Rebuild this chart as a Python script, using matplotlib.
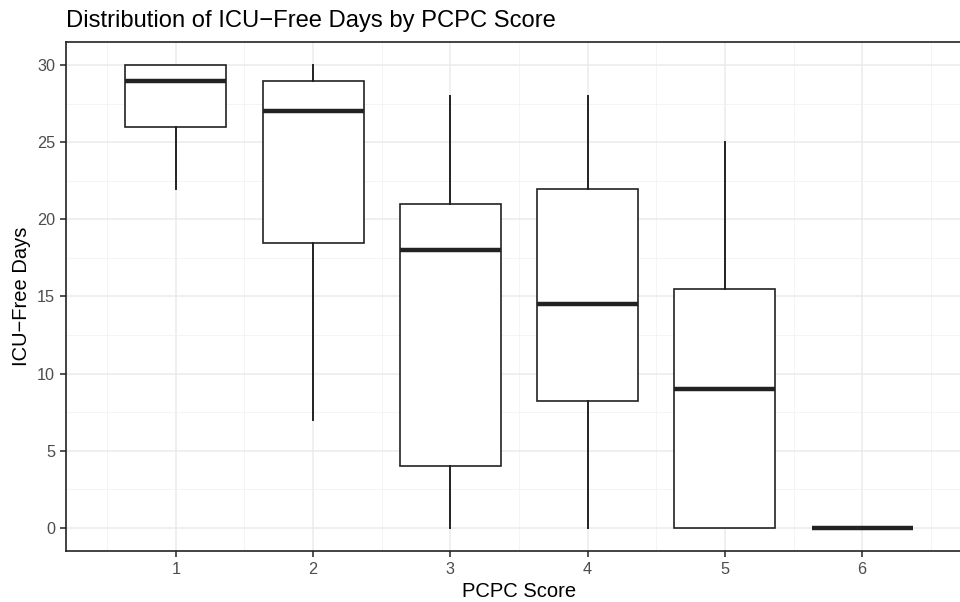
import matplotlib.pyplot as plt
import numpy as np

plt.rcParams['font.family'] = ['Liberation Sans', 'DejaVu Sans']

# PCPC score groups and box statistics
scores = [1, 2, 3, 4, 5, 6]
whisk_lo = [22, 7, 0, 0, 0, 0]
q1 = [26, 18.5, 4, 8.25, 0, 0]
medians = [29, 27, 18, 14.5, 9, 0]
q3 = [30, 29, 21, 22, 15.5, 0]
whisk_hi = [30, 30, 28, 28, 25, 0]

stats = []
for i in range(len(scores)):
    stats.append({'whislo': whisk_lo[i], 'q1': q1[i], 'med': medians[i],
                  'q3': q3[i], 'whishi': whisk_hi[i], 'fliers': []})

fig = plt.figure(figsize=(9.6, 6.02), dpi=100)
ax = fig.add_axes([66/960, 1-551/602, (972-66)/960, (551-42)/602])

line_col = '#222222'
ax.bxp(stats, positions=scores, widths=0.735, showcaps=False, patch_artist=True,
       boxprops=dict(facecolor='white', edgecolor=line_col, linewidth=1.2),
       whiskerprops=dict(color=line_col, linewidth=1.4),
       medianprops=dict(color=line_col, linewidth=3.2, solid_capstyle='butt'),
       zorder=3)

ax.set_xlim(0.2, 6.8)
ax.set_ylim(-1.5, 31.5)
ax.set_xticks(scores)
ax.set_xticklabels([str(s) for s in scores])
ax.set_xticks(np.arange(0.5, 7, 1), minor=True)
ax.set_yticks([0, 5, 10, 15, 20, 25, 30])
ax.set_yticks(np.arange(2.5, 31, 5), minor=True)

ax.grid(True, which='major', color='#EBEBEB', linewidth=1.1, zorder=0)
ax.grid(True, which='minor', color='#F2F2F2', linewidth=0.6, zorder=0)
ax.set_axisbelow(True)

for side in ax.spines.values():
    side.set_color('#222222')
    side.set_linewidth(1.2)

ax.tick_params(which='major', length=4.3, width=1.2, color='#333333',
               labelsize=11.7, labelcolor='#4D4D4D', pad=3.5)
ax.tick_params(which='minor', length=0)

ax.set_xlabel('PCPC Score', fontsize=14.5, color='black', labelpad=4)
ax.set_ylabel('ICU\u2212Free Days', fontsize=14.5, color='black', labelpad=4)
fig.text(66/960, 1-27/602, 'Distribution of ICU\u2212Free Days by PCPC Score',
         fontsize=17.1, color='black', ha='left', va='baseline')

fig.savefig('out.png', dpi=100)
